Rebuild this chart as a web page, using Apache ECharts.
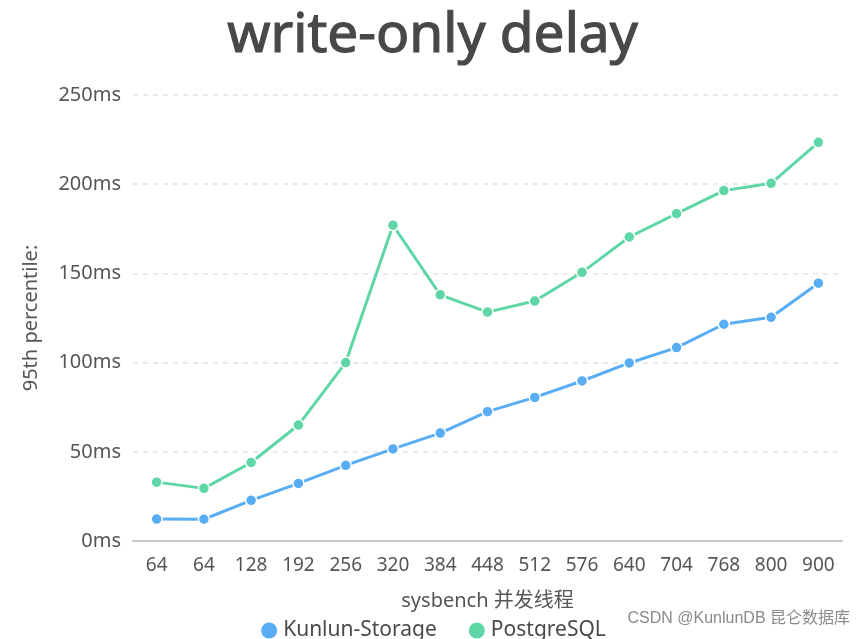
<!DOCTYPE html>
<html><head><meta charset="utf-8">
<script src="https://cdn.jsdelivr.net/npm/echarts@6/dist/echarts.min.js"></script>
<style>html,body{margin:0;padding:0;background:#fff}#c{width:865px;height:639px}</style>
</head><body><div id="c"></div>
<script>
var categories = ['64','64','128','192','256','320','384','448','512','576','640','704','768','800','900'];
var kunlunStorage = [12.3, 12.2, 22.8, 32.3, 42.4, 51.6, 60.5, 72.5, 80.5, 89.7, 99.8, 108.4, 121.5, 125.4, 144.5];
var postgreSQL = [33, 29.5, 44, 65, 100, 177, 138, 128.3, 134.5, 150.6, 170.4, 183.5, 196.4, 200.5, 223.5];
var seriesNames = ['Kunlun-Storage', 'PostgreSQL'];
var yTicks = [0, 50, 100, 150, 200, 250];

var FONT = 'Noto Sans';
var chart = echarts.init(document.getElementById('c'));
chart.setOption({
  animation: false,
  color: ['#58adf4', '#5ed6a6'],
  textStyle: {fontFamily: FONT},
  title: {
    text: 'write-only delay', left: 'center', top: 4,
    textStyle: {fontSize: 55, fontWeight: 'normal', color: '#484848', fontFamily: FONT,
      textBorderColor: '#484848', textBorderWidth: 1.2}
  },
  grid: {left: 133, right: 23, top: 95, bottom: 98},
  legend: {
    data: seriesNames, bottom: -7, left: 'center', icon: 'circle',
    itemWidth: 18, itemHeight: 18, itemGap: 30,
    textStyle: {fontSize: 21, color: '#4a4a4a', fontFamily: FONT}
  },
  graphic: [{
    type: 'text', right: 15, top: 611,
    style: {text: 'CSDN @KunlunDB 昆仑数据库', fill: '#8a8a8a', font: '16px "Liberation Sans", "Noto Sans CJK SC"'}
  }],
  xAxis: {
    type: 'category', data: categories, boundaryGap: true,
    name: 'sysbench 并发线程', nameLocation: 'middle', nameGap: 50,
    nameTextStyle: {fontSize: 20, color: '#555', fontFamily: FONT + ', "Noto Sans CJK SC"'},
    axisLine: {lineStyle: {color: '#c8c8c8', width: 2}},
    axisTick: {alignWithLabel: true, length: 7, lineStyle: {color: '#c8c8c8'}},
    axisLabel: {fontSize: 19, color: '#555', margin: 15}
  },
  yAxis: {
    type: 'value', min: yTicks[0], max: yTicks[yTicks.length - 1], interval: 50,
    name: '95th percentile:', nameLocation: 'middle', nameGap: 92,
    nameTextStyle: {fontSize: 20, color: '#555'},
    axisLine: {show: false}, axisTick: {show: false},
    axisLabel: {fontSize: 20, color: '#555', margin: 12, formatter: '{value}ms'},
    splitLine: {lineStyle: {type: [5, 5], color: '#e4e4e4', width: 1.5}}
  },
  series: [
    {name: seriesNames[0], type: 'line', data: kunlunStorage, symbol: 'circle', symbolSize: 11,
     lineStyle: {width: 3}, itemStyle: {borderColor: '#fff', borderWidth: 1.5}},
    {name: seriesNames[1], type: 'line', data: postgreSQL, symbol: 'circle', symbolSize: 11,
     lineStyle: {width: 3}, itemStyle: {borderColor: '#fff', borderWidth: 1.5}}
  ]
});
</script></body></html>
